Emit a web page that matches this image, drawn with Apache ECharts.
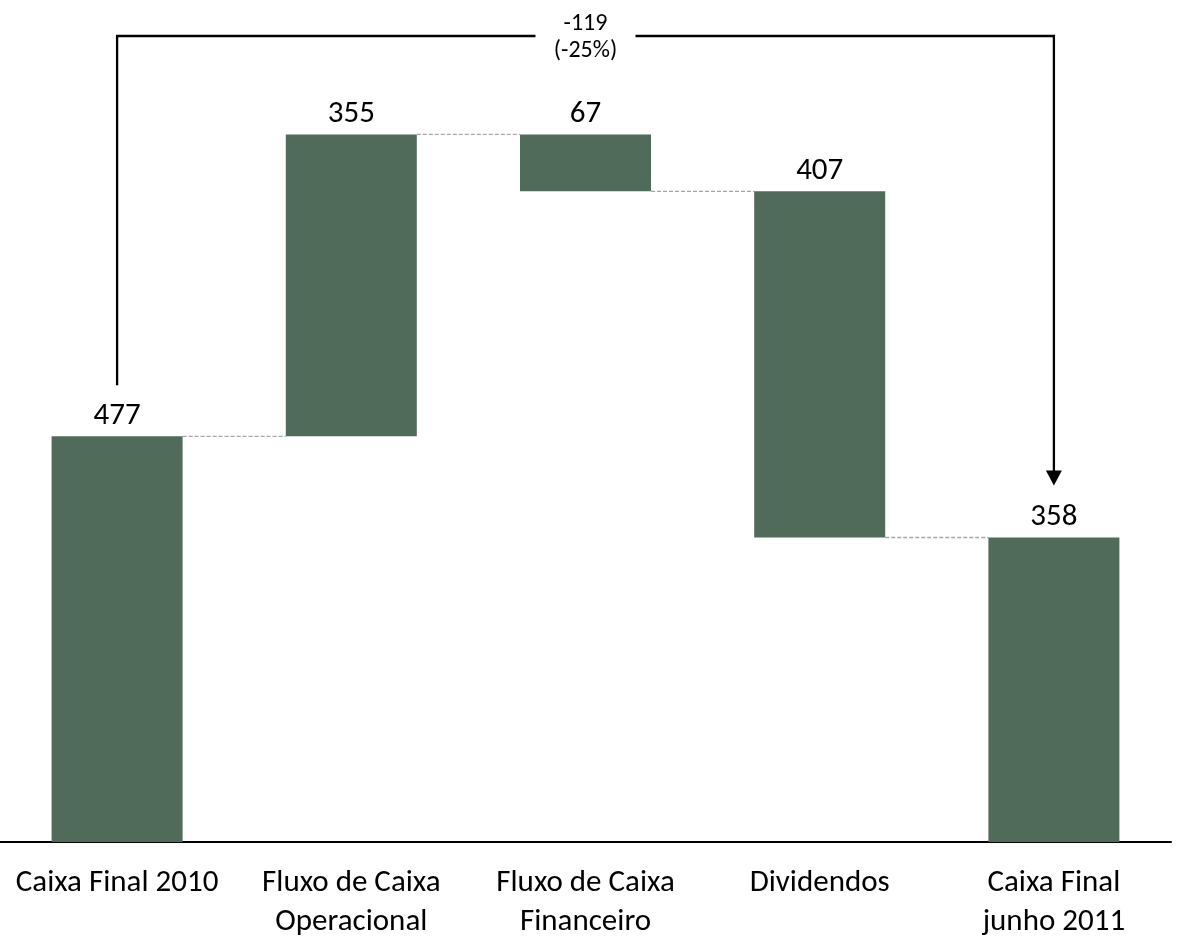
<!DOCTYPE html>
<html>
<head>
<meta charset="utf-8">
<title>Fluxo de Caixa</title>
<script src="https://cdn.jsdelivr.net/npm/echarts@6/dist/echarts.min.js"></script>
<style>
  html, body { margin: 0; padding: 0; background: #fff; }
  #chart { width: 1178px; height: 942px; }
</style>
</head>
<body>
<div id="chart"></div>
<script>
// categorias e valores (totais nas pontas, variações no meio)
const categories = ['Caixa Final 2010', 'Fluxo de Caixa\nOperacional', 'Fluxo de Caixa\nFinanceiro', 'Dividendos', 'Caixa Final\njunho 2011']
const values = [477, 355, -67, -407, 358]
const isTotal = [true, false, false, false, true]

const FONT = 'Carlito, Lato, sans-serif'
const BAR_W = 131
const GREEN = '#506B5A'

// base invisível + altura visível de cada barra
const base = []
const height = []
const levels = [] // nível final de cada barra (para os conectores)
let running = 0
values.forEach((v, i) => {
  if (isTotal[i]) {
    base.push(0)
    height.push(v)
    running = v
  } else if (v >= 0) {
    base.push(running)
    height.push(v)
    running += v
  } else {
    running += v
    base.push(running)
    height.push(-v)
  }
  levels.push(running)
})

const connectors = levels.slice(0, -1).map((lv, i) => [i, lv])
const first = values[0]
const last = values[values.length - 1]
const diff = last - first
const pct = Math.round(diff / first * 100)

const chart = echarts.init(document.getElementById('chart'))
const option = {
  animation: false,
  grid: { left: -3, right: 7, top: 0, bottom: 96 },
  xAxis: {
    type: 'category',
    data: categories,
    axisLine: { show: true, lineStyle: { color: '#000', width: 2 } },
    axisTick: { show: false },
    axisLabel: {
      interval: 0,
      margin: 22,
      color: '#000',
      fontFamily: FONT,
      fontSize: 31,
      lineHeight: 39
    }
  },
  yAxis: {
    type: 'value',
    min: 0,
    max: 990,
    show: false,
    splitLine: { show: false }
  },
  series: [
    {
      // base transparente
      type: 'bar',
      stack: 'w',
      barWidth: BAR_W,
      itemStyle: { color: 'transparent' },
      data: base,
      silent: true
    },
    {
      type: 'bar',
      stack: 'w',
      barWidth: BAR_W,
      itemStyle: { color: GREEN },
      label: {
        show: true,
        position: 'top',
        distance: 5,
        color: '#000',
        fontFamily: FONT,
        fontSize: 31,
        formatter: p => Math.abs(values[p.dataIndex])
      },
      data: height
    },
    {
      // linhas tracejadas entre as barras
      type: 'custom',
      data: connectors,
      renderItem: (params, api) => {
        const p = api.coord([api.value(0), api.value(1)])
        const band = api.size([1, 0])[0]
        return {
          type: 'line',
          shape: { x1: p[0] + BAR_W / 2, y1: p[1], x2: p[0] + band - BAR_W / 2, y2: p[1] },
          style: { stroke: '#A6A6A6', lineWidth: 1.3, lineDash: [4, 2] }
        }
      }
    },
    {
      // colchete com a variação total
      type: 'custom',
      data: [[0, first, values.length - 1, last]],
      renderItem: (params, api) => {
        const pL = api.coord([api.value(0), api.value(1)])
        const pR = api.coord([api.value(2), api.value(3)])
        const topY = 36
        const mid = (pL[0] + pR[0]) / 2
        const gap = 50
        const legL = pL[1] - 51
        const tip = pR[1] - 52
        const ls = { stroke: '#000', lineWidth: 2.3, fill: null }
        return {
          type: 'group',
          children: [
            { type: 'polyline', shape: { points: [[pL[0], legL], [pL[0], topY], [mid - gap, topY]] }, style: ls },
            { type: 'polyline', shape: { points: [[mid + gap, topY], [pR[0], topY], [pR[0], tip - 12]] }, style: ls },
            { type: 'polygon', shape: { points: [[pR[0] - 8, tip - 15], [pR[0] + 8, tip - 15], [pR[0], tip]] }, style: { fill: '#000' } },
            {
              type: 'text',
              x: mid,
              y: topY + 1,
              style: {
                text: diff + '\n(' + pct + '%)',
                align: 'center',
                verticalAlign: 'middle',
                fill: '#000',
                fontFamily: FONT,
                fontSize: 24,
                lineHeight: 27
              }
            }
          ]
        }
      }
    }
  ]
}
chart.setOption(option)
</script>
</body>
</html>
